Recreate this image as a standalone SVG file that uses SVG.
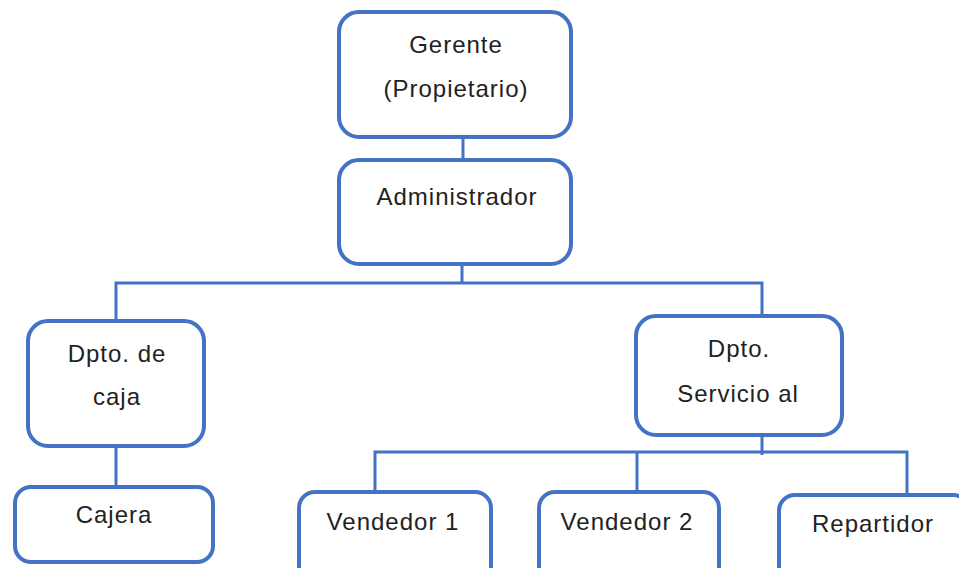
<svg xmlns="http://www.w3.org/2000/svg" width="959" height="568" viewBox="0 0 959 568">
<style>
.box{fill:#fff;stroke:#4472C4;stroke-width:4}
.ln{fill:none;stroke:#4472C4;stroke-width:3}
text{font-family:"Liberation Sans",Arial,sans-serif;font-size:24px;fill:#222;text-anchor:middle;letter-spacing:1px}
</style>
<rect width="959" height="568" fill="#fff"/>
<g id="connectors">
<path class="ln" d="M463 137V160"/>
<path class="ln" d="M462 264V283"/>
<path class="ln" d="M116 320V283H762V316"/>
<path class="ln" d="M116 446V487"/>
<path class="ln" d="M762 435V455"/>
<path class="ln" d="M375 492V452H907V495"/>
<path class="ln" d="M637 452V492"/>
</g>
<g id="gerente">
<rect class="box" x="339" y="12" width="232" height="125" rx="20"/>
<text x="456" y="53">Gerente</text>
<text x="456" y="97">(Propietario)</text>
</g>
<g id="administrador">
<rect class="box" x="339" y="160" width="232" height="104" rx="20"/>
<text x="457" y="205">Administrador</text>
</g>
<g id="dpto-caja">
<rect class="box" x="28" y="321" width="176" height="125" rx="20"/>
<text x="117" y="362">Dpto. de</text>
<text x="117" y="405">caja</text>
</g>
<g id="cajera">
<rect class="box" x="15" y="487" width="198" height="75" rx="16"/>
<text x="114" y="523">Cajera</text>
</g>
<g id="dpto-servicio">
<rect class="box" x="636" y="316" width="206" height="119" rx="20"/>
<text x="739" y="357">Dpto.</text>
<text x="738" y="402">Servicio al</text>
</g>
<g id="vendedor1">
<rect class="box" x="299" y="492" width="192" height="90" rx="16"/>
<text x="393" y="530">Vendedor 1</text>
</g>
<g id="vendedor2">
<rect class="box" x="539" y="492" width="180" height="90" rx="16"/>
<text x="627" y="530">Vendedor 2</text>
</g>
<g id="repartidor">
<rect class="box" x="779" y="495" width="190" height="90" rx="16"/>
<text x="873" y="532">Repartidor</text>
</g>
</svg>
